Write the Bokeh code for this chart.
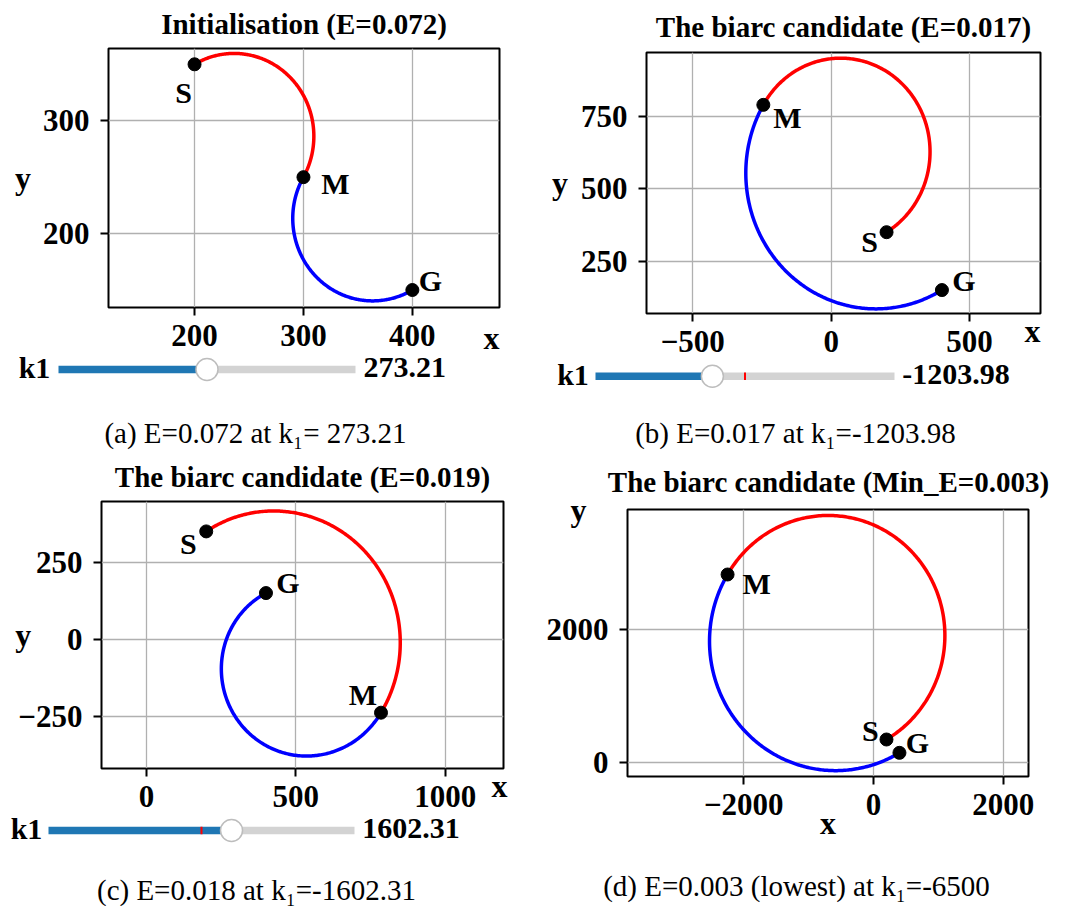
import math
from bokeh.plotting import figure
from bokeh.models import Range1d, FixedTicker, Label
from bokeh.layouts import row, column
from bokeh.embed import file_html
from bokeh.resources import INLINE

# ---------------- data ----------------
panel_names = ["a", "b", "c", "d"]
titles = ["Initialisation (E=0.072)",
          "The biarc candidate (E=0.017)",
          "The biarc candidate (E=0.019)",
          "The biarc candidate (Min_E=0.003)"]
captions = ["(a) E=0.072 at k\u2081= 273.21",
            "(b) E=0.017 at k\u2081=-1203.98",
            "(c) E=0.018 at k\u2081=-1602.31",
            "(d) E=0.003 (lowest) at k\u2081=-6500"]
start_x, start_y = 200, 350
goal_x, goal_y = 400, 150
mid_x = [300, -245, 785, -2250]
mid_y = [250, 790, -238, 2825]
arc1_cx = [236, 33, 418, -700]
arc1_cy = [286.5, 629, -3, 1910]
arc1_ccw = [False, True, False, True]
arc2_cx = [363, 161, 530, -590]
arc2_cy = [214, 555, -90, 1830]
arc2_ccw = [True, True, False, True]
k1_values = [273.21, -1203.98, 1602.31, None]
k1_texts = ["273.21", "-1203.98", "1602.31", None]
k1_initial = 273.21
k1_min, k1_max = -6500.0, 7046.42
x_ticks = [[200, 300, 400], [-500, 0, 500], [0, 500, 1000], [-2000, 0, 2000]]
y_ticks = [[200, 300], [250, 500, 750], [-250, 0, 250], [0, 2000]]
x_limits = [(121, 480), (-667, 756), (-150.5, 1195), (-3793, 2390)]
y_limits = [(134.5, 364), (69, 971), (-419, 447), (-205, 3800)]

# ---------------- layout (page pixel positions) ----------------
OVERLAP = 22
TITLE_H = 50
NB = "\u00a0"
LAYOUT = [
    dict(ox=0, oy=0, w=536, quad_h=450, plot_h=367, frame=(108, 48, 499, 307),
         title_xy=(303.5, 23),
         xlab="x" + NB * 2, xlab_standoff=-29, xlab_align="end", ylab_standoff=9, ylab_align="center",
         track=(58, 355, 369), k1_xy=(34, 367), val_x=363, caption_xy=(255, 432),
         offs={"S": (-11, -28), "M": (32, -6), "G": (18, 10)}),
    dict(ox=536, oy=0, w=537, quad_h=450, plot_h=373, frame=(646, 52, 1040, 313),
         title_xy=(843, 26.5),
         xlab="x" + NB * 2, xlab_standoff=-42, xlab_align="end", ylab_standoff=10, ylab_align="center",
         track=(595, 894, 375.7), k1_xy=(572.5, 374), val_x=901.7, caption_xy=(795, 432),
         offs={"S": (-17, -9), "M": (24, -13), "G": (22, 10)}),
    dict(ox=0, oy=450, w=536, quad_h=456, plot_h=378, frame=(101, 501, 503, 768),
         title_xy=(302, 476),
         xlab="x" + NB, xlab_standoff=-42, xlab_align="end", ylab_standoff=-16, ylab_align="center",
         track=(48, 354, 830), k1_xy=(26, 828), val_x=361.7, caption_xy=(256, 889),
         offs={"S": (-18, -12), "M": (-18, 18), "G": (22, 11)}),
    dict(ox=536, oy=450, w=537, quad_h=456, plot_h=411, frame=(627, 509, 1028, 776),
         title_xy=(828, 481.5),
         xlab="x", xlab_standoff=-13, xlab_align="center", ylab_standoff=-43, ylab_align="end",
         track=None, k1_xy=None, val_x=None, caption_xy=(796, 885),
         offs={"S": (-16, 9), "M": (29, -9), "G": (18, 10)}),
]

FONT = "Liberation Serif"


def arc_points(px, py, qx, qy, cx, cy, ccw, n=240):
    a0 = math.atan2(py - cy, px - cx)
    a1 = math.atan2(qy - cy, qx - cx)
    r0 = math.hypot(px - cx, py - cy)
    r1 = math.hypot(qx - cx, qy - cy)
    if ccw:
        while a1 <= a0:
            a1 += 2 * math.pi
    else:
        while a1 >= a0:
            a1 -= 2 * math.pi
    xs, ys = [], []
    for k in range(n + 1):
        t = k / n
        a = a0 + (a1 - a0) * t
        r = r0 + (r1 - r0) * t
        xs.append(cx + r * math.cos(a))
        ys.append(cy + r * math.sin(a))
    return xs, ys


def minus(v):
    return ("\u2212" + str(abs(v))) if v < 0 else str(v)


def set_align(ax, a):
    alt = {"start": "left", "end": "right", "center": "center"}
    try:
        ax.axis_label_align = a
    except Exception:
        try:
            ax.axis_label_align = alt[a]
        except Exception:
            pass


def blank_fig(w, h, x_range, y_range, **kw):
    s = figure(width=w, height=h, x_range=x_range, y_range=y_range,
               toolbar_location=None, output_backend="svg", min_border=0,
               frame_align=False, x_axis_location=None, y_axis_location=None,
               background_fill_color="white", border_fill_color="white", **kw)
    s.outline_line_color = None
    s.grid.visible = False
    return s


def add_text(s, L, top, h, px, py, text, size, style="bold", align="center"):
    s.add_layout(Label(x=px - L["ox"], y=h - (py - top), x_units="screen", y_units="screen",
                       text=text, text_font=FONT, text_font_style=style,
                       text_font_size=f"{size}px", text_align=align,
                       text_baseline="middle", text_color="black"))


def make_title(i):
    L = LAYOUT[i]
    s = blank_fig(L["w"], TITLE_H, Range1d(0, L["w"]), Range1d(0, TITLE_H))
    add_text(s, L, L["oy"], TITLE_H, *L["title_xy"], titles[i], 29)
    return s


def make_plot(i):
    L = LAYOUT[i]
    fl, ft, fr, fb = L["frame"]
    p = figure(width=L["w"], height=L["plot_h"],
               x_range=Range1d(*x_limits[i]), y_range=Range1d(*y_limits[i]),
               toolbar_location=None, output_backend="svg", frame_align=False,
               min_border_left=fl - L["ox"], min_border_right=L["ox"] + L["w"] - fr,
               min_border_top=ft - L["oy"], min_border_bottom=L["oy"] + L["plot_h"] - fb,
               background_fill_color="white", border_fill_color="white",
               styles={"margin-top": f"-{TITLE_H}px"})
    p.border_fill_alpha = 0
    p.outline_line_color = "black"
    p.outline_line_width = 2
    p.outline_line_alpha = 1
    for ax, ticks in ((p.xaxis[0], x_ticks[i]), (p.yaxis[0], y_ticks[i])):
        ax.ticker = FixedTicker(ticks=ticks)
        ax.major_label_overrides = {t: minus(t) for t in ticks}
        ax.axis_line_color = None
        ax.major_tick_line_color = "black"
        ax.major_tick_line_width = 2
        ax.major_tick_out = 8
        ax.major_tick_in = 0
        ax.minor_tick_line_color = None
        ax.major_label_text_font = FONT
        ax.major_label_text_font_style = "bold"
        ax.major_label_text_font_size = "31px"
        ax.major_label_text_color = "black"
        ax.axis_label_text_font = FONT
        ax.axis_label_text_font_style = "bold"
        ax.axis_label_text_font_size = "32px"
        ax.axis_label_text_color = "black"
    xa, ya = p.xaxis[0], p.yaxis[0]
    xa.major_label_standoff = 9
    ya.major_label_standoff = 11
    xa.axis_label = L["xlab"]
    xa.axis_label_standoff = L["xlab_standoff"]
    set_align(xa, L["xlab_align"])
    ya.axis_label = "y"
    ya.axis_label_orientation = "horizontal"
    ya.axis_label_standoff = L["ylab_standoff"]
    set_align(ya, L["ylab_align"])
    p.xgrid[0].ticker = FixedTicker(ticks=x_ticks[i])
    p.ygrid[0].ticker = FixedTicker(ticks=y_ticks[i])
    p.grid.grid_line_color = "#b0b0b0"
    p.grid.grid_line_width = 1.3

    xs1, ys1 = arc_points(start_x, start_y, mid_x[i], mid_y[i], arc1_cx[i], arc1_cy[i], arc1_ccw[i])
    xs2, ys2 = arc_points(mid_x[i], mid_y[i], goal_x, goal_y, arc2_cx[i], arc2_cy[i], arc2_ccw[i])
    p.line(xs1, ys1, line_color="#ff0000", line_width=3.5, line_join="round")
    p.line(xs2, ys2, line_color="#0000ff", line_width=3.5, line_join="round")
    px_ = [start_x, mid_x[i], goal_x]
    py_ = [start_y, mid_y[i], goal_y]
    p.scatter(px_, py_, size=13, fill_color="black", line_color="black")
    for name, x, y in zip(["S", "M", "G"], px_, py_):
        dx, dy = L["offs"][name]
        p.add_layout(Label(x=x, y=y, text=name, x_offset=dx, y_offset=dy,
                           text_font=FONT, text_font_style="bold", text_font_size="30px",
                           text_align="center", text_baseline="middle", text_color="black"))
    return p


def make_slider(i):
    L = LAYOUT[i]
    w = L["w"]
    h = L["quad_h"] - L["plot_h"] + OVERLAP
    top = L["oy"] + L["plot_h"] - OVERLAP
    tl, tr, ty_page = L["track"]
    tl -= L["ox"]
    tr -= L["ox"]
    upp = (k1_max - k1_min) / (tr - tl)
    x0 = k1_min - tl * upp
    x1 = x0 + w * upp
    s = blank_fig(w, h, Range1d(x0, x1), Range1d(0, h),
                  styles={"margin-top": f"-{OVERLAP}px"})
    s.background_fill_alpha = 0
    s.border_fill_alpha = 0
    ty = h - (ty_page - top)
    v = k1_values[i]
    s.hbar(y=[ty], left=[k1_min], right=[v], height=7.5, fill_color="#1f77b4", line_color=None)
    s.hbar(y=[ty], left=[v], right=[k1_max], height=7.5, fill_color="#d3d3d3", line_color=None)
    if v != k1_initial:
        s.segment(x0=[k1_initial], y0=[ty - 3.75], x1=[k1_initial], y1=[ty + 3.75],
                  line_color="#ff0000", line_width=2)
    s.scatter(x=[v], y=[ty], size=22, fill_color="white", line_color="#bdbdbd", line_width=1.5)
    add_text(s, L, top, h, *L["k1_xy"], "k1", 30)
    add_text(s, L, top, h, L["val_x"], L["k1_xy"][1], k1_texts[i], 30, align="left")
    add_text(s, L, top, h, *L["caption_xy"], captions[i], 29, style="normal")
    return s


def make_caption(i):
    L = LAYOUT[i]
    w = L["w"]
    h = L["quad_h"] - L["plot_h"]
    top = L["oy"] + L["plot_h"]
    s = blank_fig(w, h, Range1d(0, w), Range1d(0, h))
    add_text(s, L, top, h, *L["caption_xy"], captions[i], 29, style="normal")
    return s


cols = []
for i in range(4):
    bottom = make_caption(i) if LAYOUT[i]["track"] is None else make_slider(i)
    cols.append(column(make_title(i), make_plot(i), bottom, spacing=0))

layout = column(row(cols[0], cols[1], spacing=0), row(cols[2], cols[3], spacing=0), spacing=0)

open("out.html", "w").write(file_html(layout, INLINE))
